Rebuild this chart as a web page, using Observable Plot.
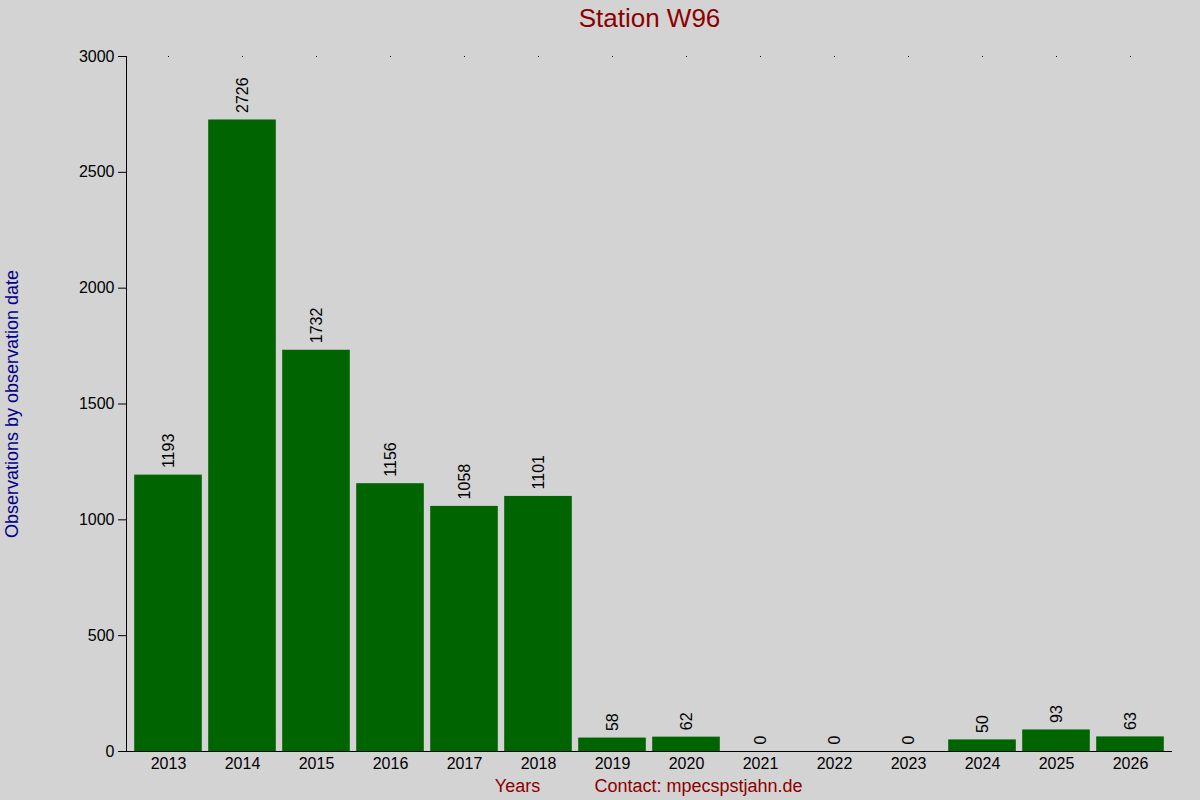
<!DOCTYPE html>
<html>
<head>
<meta charset="utf-8">
<script src="https://cdn.jsdelivr.net/npm/d3@7"></script>
<script src="https://cdn.jsdelivr.net/npm/@observablehq/plot@0.6"></script>
<style>
  html, body { margin: 0; padding: 0; background: #d3d3d3; }
  svg { display: block; }
</style>
</head>
<body>
<div id="chart"></div>
<script>
const years = ["2013","2014","2015","2016","2017","2018","2019","2020","2021","2022","2023","2024","2025","2026"];
const counts = [1193, 2726, 1732, 1156, 1058, 1101, 58, 62, 0, 0, 0, 50, 93, 63];
const yTicks = [0, 500, 1000, 1500, 2000, 2500, 3000];
const titleText = "Station W96";
const yLabel = "Observations by observation date";
const xLabel = "Years";
const contact = "Contact: mpecspstjahn.de";

const data = years.map((y, i) => ({year: y, value: counts[i]}));
const font = "Liberation Sans, Arial, sans-serif";

const chart = Plot.plot({
  width: 1200,
  height: 800,
  marginLeft: 126,
  marginRight: 28,
  marginTop: 56,
  marginBottom: 49,
  style: {background: "#d3d3d3", fontFamily: font, fontSize: "16px", color: "#000"},
  x: {domain: years, padding: 0, label: null},
  y: {domain: [0, 3000], label: null},
  marks: [
    Plot.barY(data, {x: "year", y: "value", fill: "#006400", insetLeft: 3.2, insetRight: 3.2}),
    Plot.text(data, {x: "year", y: "value", text: d => String(d.value), rotate: -90,
      textAnchor: "start", dy: -7, fontSize: 16, fill: "#000"}),
    Plot.axisY({ticks: yTicks, tickSize: 8, tickPadding: 4, fontSize: 16, label: null, tickFormat: d => String(d)}),
    Plot.axisX({tickSize: 0, tickPadding: 6, fontSize: 16, label: null}),
    Plot.axisX({anchor: "top", tickSize: 1, tickFormat: () => "", label: null}),
    Plot.frame({anchor: "left", stroke: "#000"}),
    Plot.ruleY([0], {stroke: "#000"}),
    Plot.text([titleText], {frameAnchor: "top", lineAnchor: "middle", dy: -38, fontSize: 26, fill: "#8b0000"}),
    Plot.text([yLabel], {frameAnchor: "left", textAnchor: "middle", lineAnchor: "middle", dx: -114, rotate: -90, fontSize: 18, fill: "#00008b"}),
    Plot.text([xLabel], {frameAnchor: "bottom", lineAnchor: "middle", dx: -132, dy: 35, fontSize: 18, fill: "#8b0000"}),
    Plot.text([contact], {frameAnchor: "bottom", lineAnchor: "middle", dx: 49, dy: 35, fontSize: 18, fill: "#8b0000"})
  ]
});
document.getElementById("chart").appendChild(chart);
</script>
</body>
</html>
